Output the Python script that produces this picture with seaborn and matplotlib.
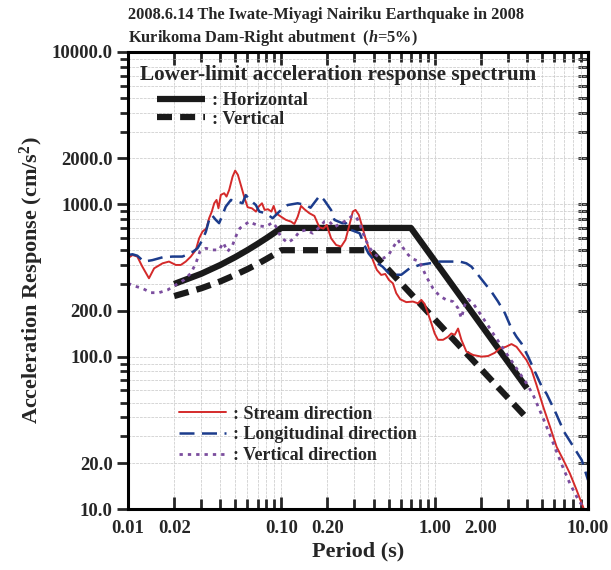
import matplotlib
matplotlib.use("Agg")
import matplotlib.pyplot as plt
from matplotlib.ticker import FixedLocator, FixedFormatter, NullFormatter
import seaborn as sns

# lower-limit (design) spectra
design_h_period = [0.02, 0.03, 0.04, 0.05, 0.06, 0.07, 0.08, 0.09, 0.10, 0.70, 4.0]
design_h_acc = [300, 350, 400, 450, 500, 550, 600, 650, 700, 700, 62]
design_v_period = [0.02, 0.03, 0.04, 0.05, 0.06, 0.07, 0.08, 0.09, 0.10, 0.38, 4.0]
design_v_acc = [250, 281, 312, 344, 375, 406, 438, 469, 500, 500, 39.4]

# observed - stream direction
stream_period = [0.010, 0.0107, 0.0115, 0.0124, 0.0137, 0.0148, 0.0168, 0.0185, 0.0205, 0.0221,
                 0.0238, 0.0257, 0.0277, 0.0291, 0.0306, 0.0325, 0.0338, 0.0352, 0.0365, 0.0378,
                 0.0389, 0.0403, 0.0424, 0.0439, 0.0457, 0.0481, 0.050, 0.0521, 0.0548, 0.0576,
                 0.0603, 0.0643, 0.0683, 0.0711, 0.0748, 0.0778, 0.0818, 0.0861, 0.0891, 0.0923,
                 0.0995, 0.1073, 0.1157, 0.1216, 0.1279, 0.1344, 0.1413, 0.1524, 0.1643, 0.177,
                 0.188, 0.1978, 0.2112, 0.2277, 0.2455, 0.262, 0.278, 0.2926, 0.3046, 0.3202,
                 0.3367, 0.354, 0.3722, 0.3952, 0.4198, 0.448, 0.476, 0.503, 0.534, 0.5617,
                 0.5965, 0.653, 0.721, 0.778, 0.818, 0.86, 0.904, 0.951, 1.0, 1.051,
                 1.134, 1.222, 1.285, 1.351, 1.421, 1.494, 1.61, 1.78, 2.018, 2.232,
                 2.466, 2.66, 2.91, 3.17, 3.42, 3.686, 3.97, 4.28, 4.62, 5.1,
                 5.65, 6.24, 6.9, 7.62, 8.43, 9.4]
stream_acc = [443, 465, 454, 390, 327, 380, 410, 421, 400, 400,
              421, 454, 502, 598, 662, 697, 810, 896, 1016, 1069,
              942, 1153, 1183, 1124, 1243, 1521, 1665, 1560, 1308, 1096,
              957, 942, 896, 966, 1016, 919, 929, 896, 976, 874,
              830, 790, 770, 743, 830, 976, 929, 874, 839, 707,
              693, 732, 598, 541, 528, 584, 732, 896, 919, 852,
              714, 598, 515, 431, 371, 344, 349, 319, 303, 261,
              238, 228, 230, 224, 236, 222, 193, 166, 142, 129,
              129, 135, 142, 139, 153, 129, 108, 102.6, 100, 101,
              106, 113.5, 116, 121, 116, 105, 95, 82, 65, 47,
              34.7, 25.6, 21.0, 17.1, 13.3, 10.0]

# observed - longitudinal direction
long_period = [0.010, 0.0107, 0.0115, 0.0127, 0.0144, 0.0168, 0.0195, 0.0226, 0.0257, 0.0284,
               0.0306, 0.0322, 0.0338, 0.0352, 0.0374, 0.0393, 0.0413, 0.0434, 0.0469, 0.052,
               0.0558, 0.0586, 0.0624, 0.0682, 0.0718, 0.079, 0.0878, 0.097, 0.110, 0.1278,
               0.1445, 0.155, 0.178, 0.19, 0.211, 0.222, 0.25, 0.264, 0.284, 0.324,
               0.348, 0.37, 0.41, 0.457, 0.503, 0.548, 0.606, 0.686, 0.798, 0.927,
               1.078, 1.253, 1.457, 1.61, 1.737, 1.92, 2.12, 2.345, 2.59, 2.87,
               3.17, 3.42, 3.686, 4.07, 4.5, 4.98, 5.37, 6.18, 6.97, 8.02,
               9.09, 10.0]
long_acc = [465, 470, 460, 421, 430, 449, 454, 454, 477, 515,
            584, 662, 790, 851, 790, 752, 851, 966, 1069, 1042,
            1016, 1150, 1069, 990, 896, 874, 811, 896, 990, 1016,
            990, 950, 1141, 1069, 918, 790, 752, 752, 680, 646,
            541, 477, 420, 390, 353, 345, 345, 380, 400, 410,
            421, 421, 421, 410, 390, 344, 303, 267, 230, 193,
            153, 135, 122, 100, 80, 64, 57, 42.5, 32.2, 25.7,
            21, 15.5]

# observed - vertical direction
vert_period = [0.010, 0.011, 0.0124, 0.0141, 0.0159, 0.0181, 0.0205, 0.0232, 0.0257, 0.0277,
               0.0294, 0.0322, 0.0356, 0.0393, 0.0418, 0.0446, 0.0481, 0.051, 0.0537, 0.0573,
               0.0618, 0.0666, 0.0718, 0.0794, 0.0877, 0.0923, 0.0995, 0.11, 0.1216, 0.1311,
               0.145, 0.160, 0.177, 0.191, 0.206, 0.222, 0.239, 0.265, 0.2897, 0.3076,
               0.3266, 0.3487, 0.3722, 0.399, 0.4327, 0.4642, 0.5003, 0.5395, 0.576, 0.6146,
               0.66, 0.714, 0.798, 0.882, 0.975, 1.078, 1.192, 1.318, 1.421, 1.494,
               1.57, 1.65, 1.78, 1.968, 2.176, 2.405, 2.66, 2.94, 3.25, 3.59,
               3.97, 4.39, 5.1, 5.65, 6.24, 6.9, 7.62, 8.43, 9.22, 9.5]
vert_acc = [303, 291, 281, 263, 263, 274, 296, 319, 353, 410,
            489, 515, 502, 502, 561, 489, 541, 630, 697, 732,
            770, 743, 721, 714, 760, 714, 608, 560, 598, 662,
            679, 646, 707, 770, 770, 707, 743, 782, 839, 830,
            732, 608, 528, 477, 449, 443, 465, 528, 584, 528,
            475, 440, 420, 335, 281, 250, 236, 230, 208, 179,
            218, 238, 224, 193, 166, 142, 122, 105, 90.5, 77.8,
            66.8, 56, 39.4, 30.6, 23.8, 18.5, 14.7, 12.05, 10.4, 10.0]

x_tick_vals = [0.01, 0.02, 0.1, 0.2, 1.0, 2.0, 10.0]
x_tick_labels = ["0.01", "0.02", "0.10", "0.20", "1.00", "2.00", "10.00"]
y_tick_vals = [10, 20, 100, 200, 1000, 2000, 10000]
y_tick_labels = ["10.0", "20.0", "100.0", "200.0", "1000.0", "2000.0", "10000.0"]

sns.set_style("ticks")
plt.rcParams["font.family"] = ["Liberation Serif", "DejaVu Serif"]
plt.rcParams["font.weight"] = "bold"
plt.rcParams["mathtext.fontset"] = "custom"
plt.rcParams["mathtext.rm"] = "Liberation Serif:bold"
plt.rcParams["mathtext.it"] = "Liberation Serif:italic:bold"
plt.rcParams["mathtext.bf"] = "Liberation Serif:bold"

fig = plt.figure(figsize=(6.11, 5.70), dpi=100)
ax = fig.add_axes([128 / 611, 61 / 570, 460 / 611, 457 / 570])

sns.lineplot(x=design_h_period, y=design_h_acc, ax=ax, color="#1a1a1a", linewidth=4.5,
             solid_capstyle="butt")
h_line = ax.lines[-1]
sns.lineplot(x=design_v_period, y=design_v_acc, ax=ax, color="#1a1a1a", linewidth=4.5,
             linestyle=(0, (2.4, 1.3)), dash_capstyle="butt")
v_line = ax.lines[-1]

sns.lineplot(x=stream_period, y=stream_acc, ax=ax, color="#d42a2a", linewidth=1.4)
s_line = ax.lines[-1]
sns.lineplot(x=long_period, y=long_acc, ax=ax, color="#1c3c8c", linewidth=1.8,
             linestyle=(0, (6, 3)))
l_line = ax.lines[-1]
sns.lineplot(x=vert_period, y=vert_acc, ax=ax, color="#7b4d9e", linewidth=2.0,
             linestyle=(0, (1.2, 1.8)))
vv_line = ax.lines[-1]

ax.set_xscale("log")
ax.set_yscale("log")
ax.set_xlim(0.01, 10)
ax.set_ylim(10, 10000)

ax.xaxis.set_major_locator(FixedLocator(x_tick_vals))
ax.xaxis.set_major_formatter(FixedFormatter(x_tick_labels))
x_minor = [m * 10.0 ** e for e in (-2, -1, 0) for m in range(3, 10)]
ax.xaxis.set_minor_locator(FixedLocator(x_minor))
ax.xaxis.set_minor_formatter(NullFormatter())

ax.yaxis.set_major_locator(FixedLocator(y_tick_vals))
ax.yaxis.set_major_formatter(FixedFormatter(y_tick_labels))
y_minor = [m * 10.0 ** e for e in (1, 2, 3) for m in range(3, 10)]
ax.yaxis.set_minor_locator(FixedLocator(y_minor))
ax.yaxis.set_minor_formatter(NullFormatter())

ax.tick_params(axis="x", which="both", direction="in", top=True, bottom=True,
               width=2, labelsize=13.5, pad=8)
ax.tick_params(axis="x", which="major", length=9)
ax.tick_params(axis="x", which="minor", length=7)
ax.tick_params(axis="y", which="both", direction="out", left=True, right=False,
               width=2, labelsize=13.5, pad=3)
ax.tick_params(axis="y", which="major", length=8)
ax.tick_params(axis="y", which="minor", length=6)

sec = ax.secondary_yaxis("right")
sec.yaxis.set_major_locator(FixedLocator(y_tick_vals))
sec.yaxis.set_minor_locator(FixedLocator(y_minor))
sec.yaxis.set_major_formatter(NullFormatter())
sec.yaxis.set_minor_formatter(NullFormatter())
sec.tick_params(axis="y", which="both", direction="in", width=2, length=7)
sec.spines["right"].set_linewidth(2.2)

for side in ax.spines.values():
    side.set_linewidth(2.2)
    side.set_color("black")

ax.grid(True, which="both", color="#c6c6c6", linewidth=0.5, linestyle=(0, (4, 1.5)))
ax.set_axisbelow(True)

for lab in ax.get_xticklabels() + ax.get_yticklabels():
    lab.set_fontweight("bold")

ax.set_xlabel("Period (s)", fontsize=16, fontweight="bold", labelpad=3)
ax.set_ylabel("Acceleration Response (cm/s$^2$)", fontsize=16, fontweight="bold", labelpad=4)

fig.text(128 / 611, 1 - 15 / 570, "2008.6.14 The Iwate-Miyagi Nairiku Earthquake in 2008",
         fontsize=11.8, fontweight="bold", va="center", ha="left")
fig.text(128 / 611, 1 - 38 / 570, "Kurikoma Dam-Right abutment  ($\\mathit{h}$=5%)",
         fontsize=11.8, fontweight="bold", va="center", ha="left")

ax.text(0.026, 0.95, "Lower-limit acceleration response spectrum", transform=ax.transAxes,
        fontsize=15.3, fontweight="bold", va="center", ha="left")

leg1 = ax.legend(handles=[h_line, v_line], labels=[": Horizontal", ": Vertical"],
                 loc="upper left", bbox_to_anchor=(0.063, 0.912), borderaxespad=0, borderpad=0,
                 frameon=False, handlelength=2.6, handletextpad=0.4, labelspacing=0.08,
                 prop={"family": "Liberation Serif", "weight": "bold", "size": 13.2})
ax.add_artist(leg1)
ax.legend(handles=[s_line, l_line, vv_line],
          labels=[": Stream direction", ": Longitudinal direction", ": Vertical direction"],
          loc="upper left", bbox_to_anchor=(0.11, 0.226), borderaxespad=0, borderpad=0,
          frameon=False, handlelength=2.6, handletextpad=0.4, labelspacing=0.2,
          prop={"family": "Liberation Serif", "weight": "bold", "size": 13})

fig.savefig("out.png", dpi=100)
